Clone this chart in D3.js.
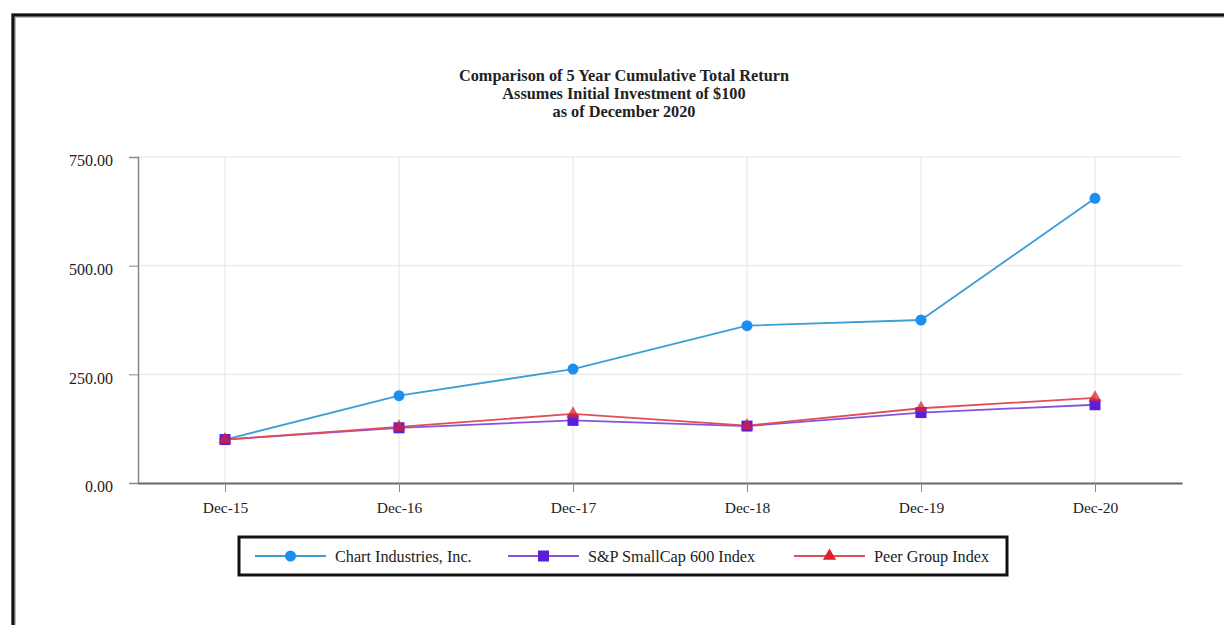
<!DOCTYPE html>
<html>
<head>
<meta charset="utf-8">
<script src="https://cdn.jsdelivr.net/npm/d3@7"></script>
<style>
  body { margin: 0; background: #fff; }
  svg text { font-family: "Liberation Serif", "Times New Roman", serif; fill: #222; }
</style>
</head>
<body>
<div id="chart"></div>
<script>
// data
const years = ["Dec-15", "Dec-16", "Dec-17", "Dec-18", "Dec-19", "Dec-20"];
const chartInd = [100, 201, 262, 362, 375, 655];
const sp600 = [100, 127, 144, 131, 162, 180];
const peerGroup = [100, 129, 159, 132, 172, 196];
const yTicks = [0, 250, 500, 750];
const titleLines = [
  "Comparison of 5 Year Cumulative Total Return",
  "Assumes Initial Investment of $100",
  "as of December 2020"
];

const series = [
  { name: "Chart Industries, Inc.", values: chartInd, line: "#3d9fd6", fill: "#1a8ff0", shape: "circle" },
  { name: "S&P SmallCap 600 Index", values: sp600, line: "#8652e0", fill: "#5a1fd8", shape: "square" },
  { name: "Peer Group Index", values: peerGroup, line: "#df4f55", fill: "#e0202e", shape: "triangle" }
];

const width = 1224, height = 625;
const plotLeft = 138, plotRight = 1182, plotTop = 157, plotBottom = 483;

const svg = d3.select("#chart").append("svg")
  .attr("width", width)
  .attr("height", height);

// page frame
svg.append("rect")
  .attr("x", 13.5).attr("y", 15.5)
  .attr("width", 1400).attr("height", 800)
  .attr("fill", "none")
  .attr("stroke", "#bbb")
  .attr("stroke-width", 5);
svg.append("rect")
  .attr("x", 13).attr("y", 15)
  .attr("width", 1400).attr("height", 800)
  .attr("fill", "none")
  .attr("stroke", "#111")
  .attr("stroke-width", 3);

// title
svg.append("g").selectAll("text")
  .data(titleLines)
  .join("text")
  .attr("x", 624)
  .attr("y", (d, i) => 81 + i * 18)
  .attr("text-anchor", "middle")
  .style("font-size", "16.3px")
  .style("font-weight", "bold")
  .text(d => d);

const x = d3.scalePoint().domain(years).range([plotLeft, plotRight]).padding(0.5);
const y = d3.scaleLinear().domain([0, 750]).range([plotBottom, plotTop]);

// gridlines
svg.append("g").selectAll("line")
  .data(yTicks.slice(1))
  .join("line")
  .attr("x1", plotLeft).attr("x2", plotRight)
  .attr("y1", d => y(d)).attr("y2", d => y(d))
  .attr("stroke", "#e4e4e4");
svg.append("g").selectAll("line")
  .data(years)
  .join("line")
  .attr("x1", d => x(d)).attr("x2", d => x(d))
  .attr("y1", plotTop).attr("y2", plotBottom)
  .attr("stroke", "#e4e4e4");

// axes
const yAxis = svg.append("g")
  .attr("transform", `translate(${plotLeft},0)`)
  .call(d3.axisLeft(y).tickValues(yTicks).tickFormat(d3.format(".2f")).tickSize(9).tickPadding(16));
yAxis.select(".domain").attr("stroke", "#888").attr("stroke-width", 1.5);
yAxis.selectAll(".tick line").attr("stroke", "#888");
yAxis.selectAll(".tick text").style("font-size", "16px").attr("dy", "0.55em").attr("fill", "#222");

const xAxis = svg.append("g")
  .attr("transform", `translate(0,${plotBottom})`)
  .call(d3.axisBottom(x).tickSize(9).tickSizeOuter(0).tickPadding(10));
xAxis.select(".domain").attr("stroke", "#666").attr("stroke-width", 2);
xAxis.selectAll(".tick line").attr("stroke", "#888");
xAxis.selectAll(".tick text").style("font-size", "15.5px").attr("fill", "#222");

// markers
function drawMarker(g, shape, cx, cy, fill) {
  if (shape === "circle") {
    g.append("circle").attr("cx", cx).attr("cy", cy).attr("r", 5.5).attr("fill", fill);
  } else if (shape === "square") {
    g.append("rect").attr("x", cx - 5.5).attr("y", cy - 5.5).attr("width", 11).attr("height", 11).attr("fill", fill);
  } else {
    g.append("path")
      .attr("d", d3.symbol().type(d3.symbolTriangle).size(75)())
      .attr("transform", `translate(${cx},${cy})`)
      .attr("fill", fill);
  }
}

const line = d3.line()
  .x((d, i) => x(years[i]))
  .y(d => y(d));

const plot = svg.append("g");
series.forEach(s => {
  plot.append("path")
    .datum(s.values)
    .attr("d", line)
    .attr("fill", "none")
    .attr("stroke", s.line)
    .attr("stroke-width", 1.8);
});
series.forEach(s => {
  const mg = plot.append("g").attr("opacity", s.shape === "triangle" ? 0.75 : 1);
  s.values.forEach((v, i) => drawMarker(mg, s.shape, x(years[i]), y(v), s.fill));
});

// legend
const legend = svg.append("g");
legend.append("rect")
  .attr("x", 239).attr("y", 537)
  .attr("width", 768).attr("height", 38)
  .attr("fill", "#fff")
  .attr("stroke", "#111")
  .attr("stroke-width", 3);

const legendX = [255, 508, 794];
series.forEach((s, i) => {
  const g = legend.append("g");
  const lx = legendX[i];
  g.append("line")
    .attr("x1", lx).attr("x2", lx + 71)
    .attr("y1", 556).attr("y2", 556)
    .attr("stroke", s.line).attr("stroke-width", 1.8);
  drawMarker(g, s.shape, lx + 35.5, 556, s.fill);
  g.append("text")
    .attr("x", lx + 80)
    .attr("y", 561.5)
    .style("font-size", "16.2px")
    .text(s.name);
});
</script>
</body>
</html>
